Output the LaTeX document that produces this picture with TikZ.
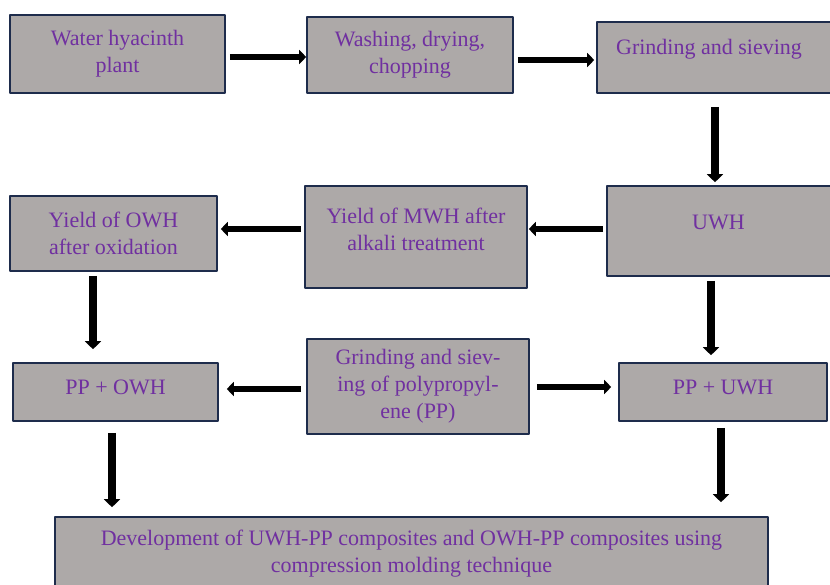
\documentclass[tikz,border=0pt]{standalone}
\usepackage{fontspec}
\setmainfont{Liberation Serif}
\usetikzlibrary{arrows.meta}

\begin{document}
\begin{tikzpicture}[x=1pt,y=-1pt,line join=round,font=\fontsize{22}{27}\selectfont]
    \definecolor{boxgray}{RGB}{173,169,168}
    \definecolor{boxline}{RGB}{30,44,76}
    \definecolor{txtpurple}{RGB}{112,48,160}
    \tikzset{
        box/.style 2 args={draw=boxline,fill=boxgray,line width=1.6pt,inner sep=0pt,
            minimum width=#1 pt,minimum height=#2 pt},
        txt/.style={text=txtpurple,align=center,inner sep=0pt},
        flow/.style={line width=6.8pt,-{Triangle[length=7pt,width=14pt]}},
        vflow/.style={line width=7.5pt,-{Triangle[length=8pt,width=16pt]}},
    }
    \useasboundingbox (0,0) rectangle (830,584);
    %===============================
    % boxes
    \node[box={215}{78},label={[txt]center:{Water hyacinth\\plant}}] (plant) at (117.5,54) {};
    \node[box={206}{76},label={[txt]center:{Washing, drying,\\chopping}}] (wash) at (410,55) {};
    \node[box={243}{71},label={[txt,xshift=-9.5pt,yshift=8.5pt]center:Grinding and sieving}] (grind) at (718.5,57.5) {};
    \node[box={233}{90},label={[txt,xshift=-5pt,yshift=9pt]center:UWH}] (uwh) at (723.5,231) {};
    \node[box={222}{102},label={[txt,yshift=8pt]center:{Yield of MWH after\\alkali treatment}}] (mwh) at (416,237) {};
    \node[box={207}{75},label={[txt]center:{Yield of OWH\\after oxidation}}] (owh) at (113.5,233.5) {};
    \node[box={205}{58},label={[txt,yshift=5pt]center:PP + OWH}] (ppowh) at (115.5,392) {};
    \node[box={222}{95},label={[txt]center:{Grinding and siev-\\ing of polypropyl-\\ene (PP)}}] (pp) at (418,386.5) {};
    \node[box={208}{58},label={[txt,yshift=5pt]center:PP + UWH}] (ppuwh) at (723,392) {};
    \node[box={713}{84},label={[txt,yshift=5pt]center:{Development of UWH-PP composites and OWH-PP composites using\\compression molding technique}}] (dev) at (411.5,559) {};
    %===============================
    % arrows
    \draw[flow,shorten <=4pt] ([yshift=-3pt]plant.east) -- ([yshift=-3pt]plant.east -| wash.west);
    \draw[flow,shorten <=4pt,shorten >=2pt] ([yshift=-5pt]wash.east) -- ([yshift=-5pt]wash.east -| grind.west);
    \draw[vflow,shorten <=13pt,shorten >=3pt] ([xshift=-3.5pt]grind.south) -- ([xshift=-3.5pt]grind.south |- uwh.north);
    \draw[flow,shorten <=3pt,shorten >=1pt] ([yshift=2pt]uwh.west) -- ([yshift=2pt]uwh.west -| mwh.east);
    \draw[flow,shorten <=3pt,shorten >=3pt] ([yshift=8pt]mwh.west) -- ([yshift=8pt]mwh.west -| owh.east);
    \draw[vflow,shorten <=4pt,shorten >=13pt] ([xshift=-20.5pt]owh.south) -- ([xshift=-20.5pt]owh.south |- ppowh.north);
    \draw[vflow,shorten <=4pt,shorten >=7pt] ([xshift=-12.5pt]uwh.south) -- ([xshift=-12.5pt]uwh.south |- ppuwh.north);
    \draw[flow,shorten <=5pt,shorten >=8pt] ([yshift=-2.5pt]pp.west) -- ([yshift=-2.5pt]pp.west -| ppowh.east);
    \draw[flow,shorten <=7pt,shorten >=7pt] ([yshift=-0.5pt]pp.east) -- ([yshift=-0.5pt]pp.east -| ppuwh.west);
    \draw[vflow,shorten <=11pt,shorten >=9pt] ([xshift=-3.5pt]ppowh.south) -- ([xshift=-3.5pt]ppowh.south |- dev.north);
    \draw[vflow,shorten <=6pt,shorten >=14pt] ([xshift=-2pt]ppuwh.south) -- ([xshift=-2pt]ppuwh.south |- dev.north);
\end{tikzpicture}
\end{document}
